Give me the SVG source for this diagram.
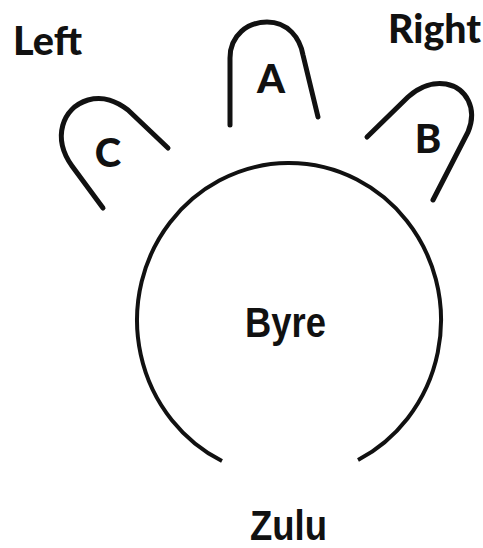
<svg xmlns="http://www.w3.org/2000/svg" width="483" height="548" viewBox="0 0 483 548">
  <style>
    .hoop { fill: none; stroke: #111; stroke-width: 5; stroke-linecap: round; stroke-linejoin: round; }
    .ring { fill: none; stroke: #111; stroke-width: 4; stroke-linecap: butt; }
    .heavy { font-family: "Lato", "DejaVu Sans", sans-serif; font-weight: 900; font-size: 40px; fill: #111; }
    .plain { font-family: "Liberation Sans", Arial, sans-serif; font-weight: bold; font-size: 43px; fill: #111; }
  </style>
  <rect width="483" height="548" fill="#fff"/>
  <g id="connectors"></g>
  <g id="byre">
    <path class="ring" d="M222,461 A152,157 0 1 1 358,460"/>
    <text class="plain" x="245" y="337" textLength="81" lengthAdjust="spacingAndGlyphs">Byre</text>
  </g>
  <g id="node-a">
    <path class="hoop" d="M230,125 L230,58 C230,35 248,22 267,22 C288,22 300,38 303,55 L318,117"/>
    <text class="heavy" x="271" y="93" text-anchor="middle">A</text>
  </g>
  <g id="node-b">
    <path class="hoop" d="M367,137 L408,97 C420,86 434,82 446,84 C466,88 478,108 468,132 L433,200"/>
    <text class="heavy" x="428" y="153" text-anchor="middle">B</text>
  </g>
  <g id="node-c">
    <path class="hoop" d="M103,208 L72,166 C52,138 62,108 88,100 C104,96 116,101 128,110 L168,148"/>
    <text class="heavy" x="108" y="167" text-anchor="middle">C</text>
  </g>
  <g id="label-left">
    <text class="heavy" x="13" y="55" textLength="69" lengthAdjust="spacingAndGlyphs">Left</text>
  </g>
  <g id="label-right">
    <text class="heavy" x="388" y="43" textLength="93" lengthAdjust="spacingAndGlyphs">Right</text>
  </g>
  <g id="zulu">
    <text class="plain" x="250" y="540" textLength="77" lengthAdjust="spacingAndGlyphs">Zulu</text>
  </g>
</svg>
